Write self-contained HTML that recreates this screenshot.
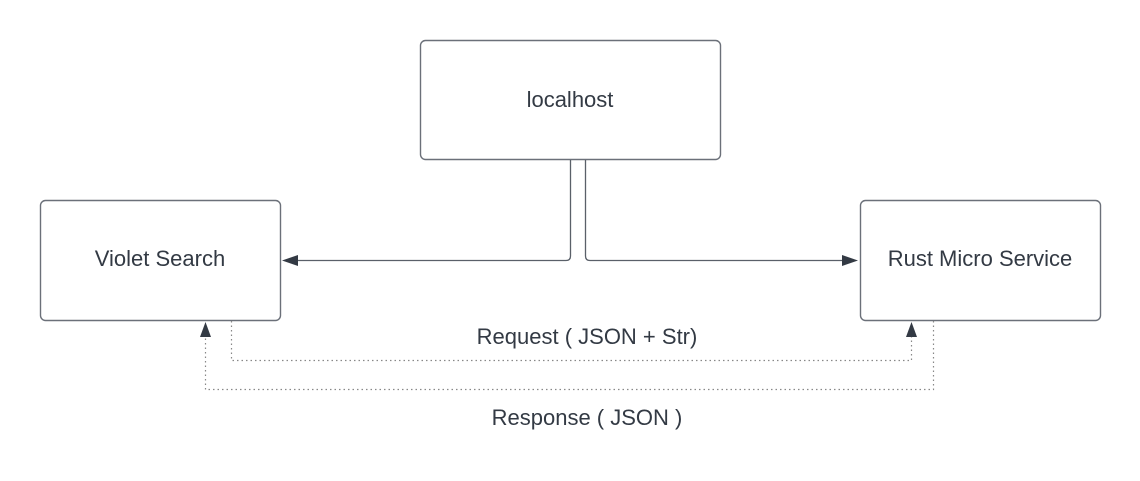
<!DOCTYPE html>
<html><head><meta charset="utf-8"><style>
html,body{margin:0;padding:0;background:#fff;}
svg{display:block;}
text{font-family:"Liberation Sans",Arial,sans-serif;fill:#333a44;font-size:22px;}
</style></head><body>
<svg width="1140" height="481" viewBox="0 0 1140 481" xmlns="http://www.w3.org/2000/svg">
<g fill="#fff" stroke="#6b7079" stroke-width="1.4">
<rect x="420.5" y="40.5" width="300" height="119" rx="5"/>
<rect x="40.5" y="200.5" width="240" height="120" rx="5"/>
<rect x="860.5" y="200.5" width="240" height="120" rx="5"/>
</g>
<text x="570" y="107" text-anchor="middle">localhost</text>
<text x="160" y="266" text-anchor="middle">Violet Search</text>
<text x="980" y="266" text-anchor="middle">Rust Micro Service</text>
<text x="587" y="344" text-anchor="middle">Request ( JSON + Str)</text>
<text x="587" y="425" text-anchor="middle">Response ( JSON )</text>
<g fill="none" stroke="#5a6069" stroke-width="1.3">
<path d="M570.5 160 V256 Q570.5 260.5 566 260.5 H296"/>
<path d="M585.5 160 V256 Q585.5 260.5 590 260.5 H845"/>
</g>
<g fill="#333a44">
<polygon points="282,260.5 298,255 298,266"/>
<polygon points="858,260.5 842,255 842,266"/>
<polygon points="205.5,322 200,337 211,337"/>
<polygon points="911.5,322 906,337 917,337"/>
</g>
<g fill="none" stroke="#888" stroke-width="1.2" stroke-dasharray="1.5,3">
<path d="M231.5 321 V360.5 H911.5 V337"/>
<path d="M933.5 321 V389.5 H205.5 V337"/>
</g>
</svg>
</body></html>
